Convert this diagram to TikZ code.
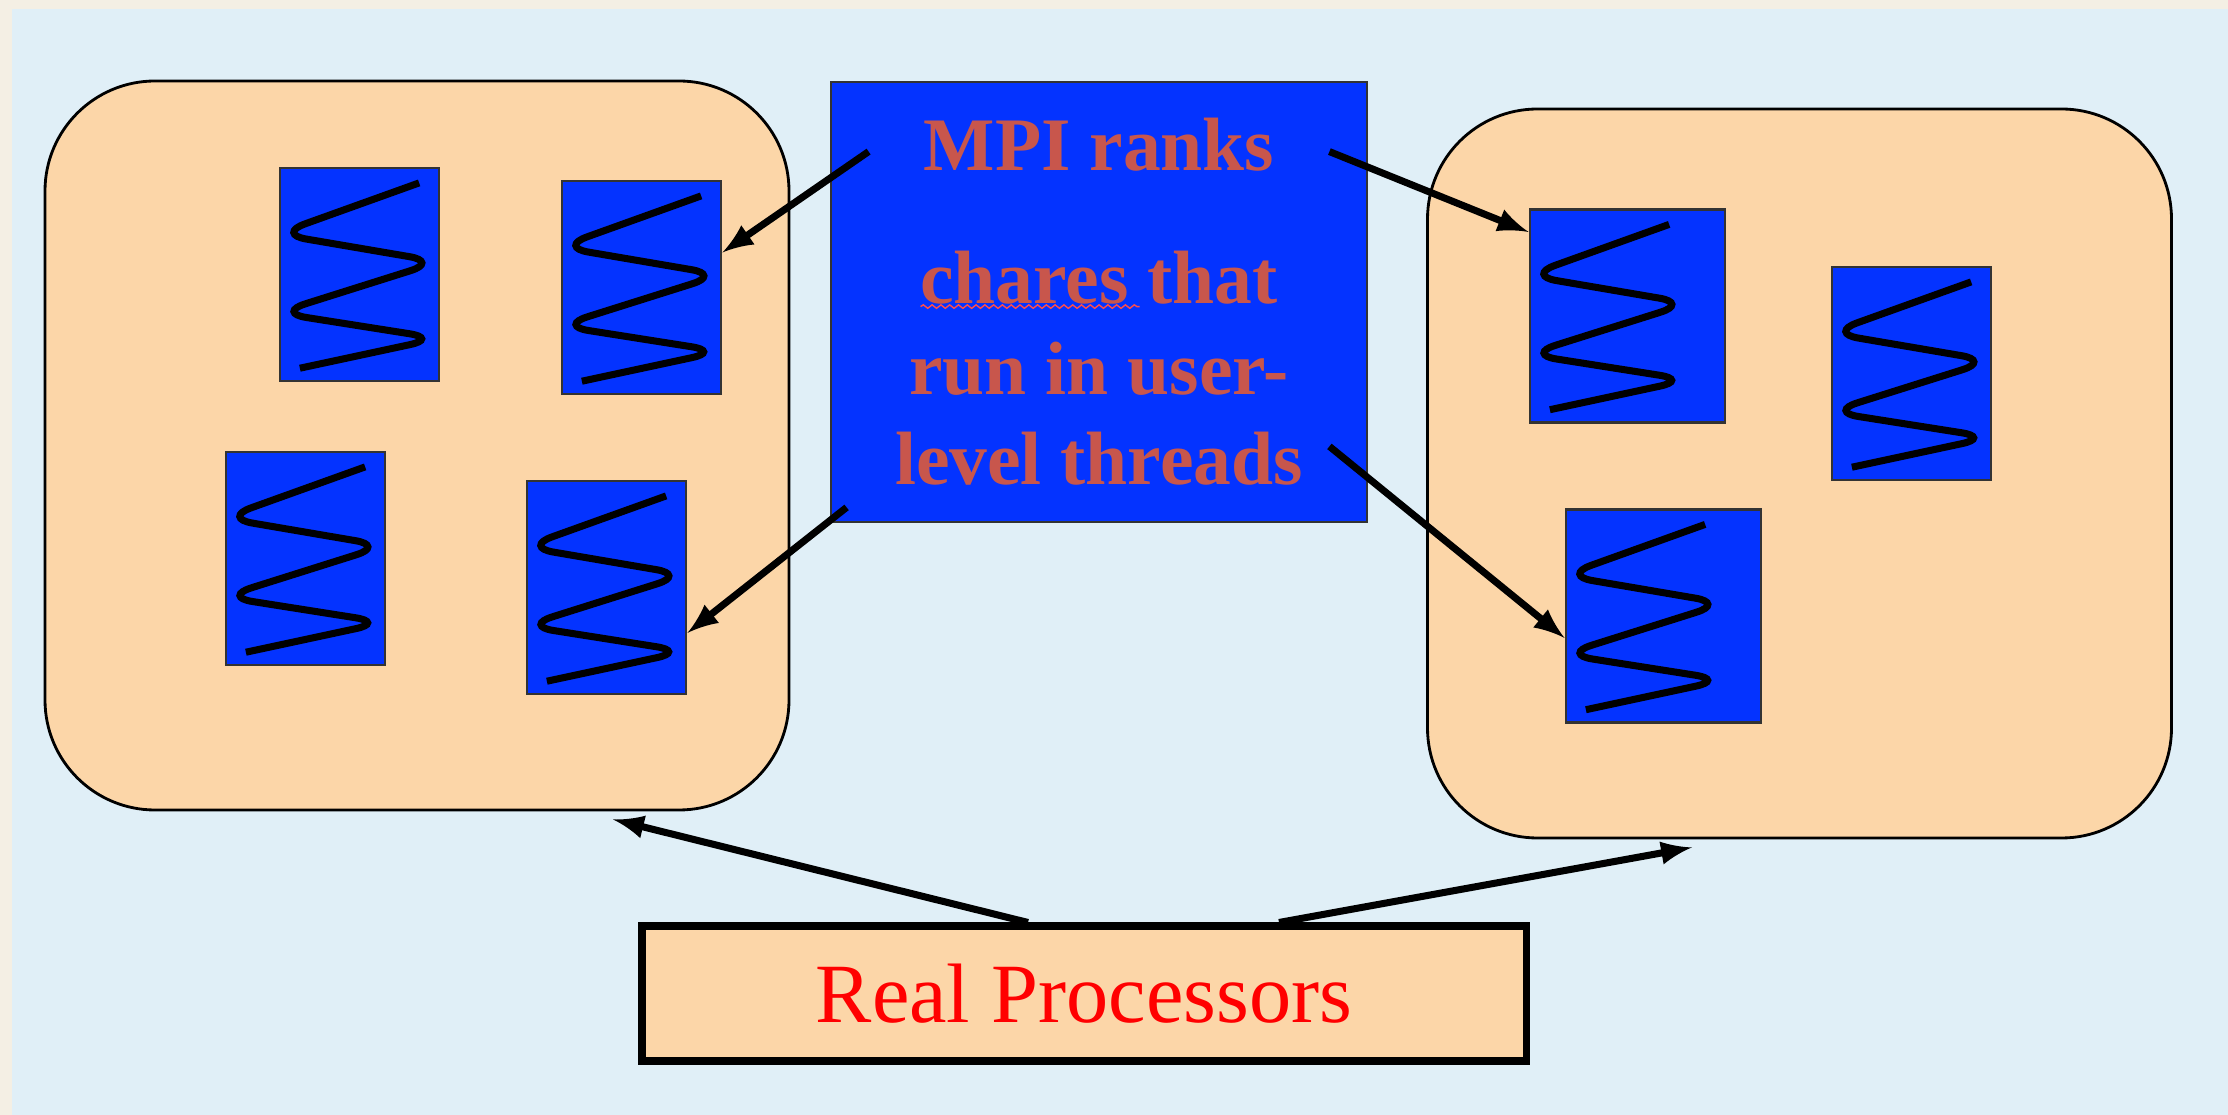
\documentclass[tikz,border=0pt]{standalone}
\usepackage{fontspec}
\setmainfont{Liberation Serif}
\usepackage{xcolor}
\usepackage{tikz}
\usetikzlibrary{decorations.pathmorphing}
\definecolor{rahmen}{RGB}{244,239,228}
\definecolor{hellblau}{RGB}{224,239,247}
\definecolor{pfirsich}{RGB}{252,214,168}
\definecolor{mpiblau}{RGB}{4,51,255}
\definecolor{ziegel}{RGB}{200,86,76}
\tikzset{
  Pfeil/.style={line width=2pt,->}, % Pfeile
  Prozessor/.style={draw,line width=0.8pt,fill=pfirsich,rounded corners=1.1cm,
    minimum width=7.44cm,minimum height=7.29cm}, % Prozessoren
  Faden/.style={draw=black!80,line width=0.8pt,fill=mpiblau,inner sep=0pt,
    minimum width=#1,minimum height=2.13cm,
    path picture={\draw[draw=black,line width=2pt,rounded corners=3mm,x=1.59cm,y=2.13cm]
      (path picture bounding box.north west) ++(0.875,-0.07)
      -- ++(-0.895,-0.24) -- ++(1.02,-0.13) -- ++(-1.02,-0.24)
      -- ++(1.02,-0.12) -- ++(-0.875,-0.14);}}, % Threads
  Faden/.default=1.59cm,
  Welle/.style={red!70!white,thin,decorate,
    decoration={snake,amplitude=0.5pt,segment length=2.5pt}}
}
\begin{document}
\begin{tikzpicture}[
>=latex % Pfeilspitzen
]
\useasboundingbox (0,0) rectangle (22.28,-11.15);

%Hintergrund
\fill[rahmen] (0,0) rectangle (22.28,-11.15);
\fill[hellblau] (0.12,-0.09) rectangle (22.28,-11.15);

%Prozessoren
\node[Prozessor] (pe1) at (4.17,-4.455) {};
\node[Prozessor] (pe2) at (17.995,-4.735) {};

%Threads
\node[Faden] (t1) at (3.595,-2.745) {};
\node[Faden] (t2) at (6.415,-2.875) {};
\node[Faden] (t3) at (3.055,-5.585) {};
\node[Faden] (t4) at (6.065,-5.875) {};
\node[Faden=1.95cm] (t5) at (16.275,-3.16) {};
\node[Faden] (t6) at (19.115,-3.735) {};
\node[Faden=1.95cm] (t7) at (16.635,-6.16) {};

%Beschriftungen
\node[draw=black!80,line width=0.8pt,fill=mpiblau,text=ziegel,align=center,inner sep=0pt,
  minimum width=5.36cm,minimum height=4.40cm,
  font=\fontsize{21.5}{25.8}\selectfont\bfseries] (mpi) at (10.99,-3.02)
  {MPI ranks\\[12pt]chares that\\run in user-\\level threads};
\draw[Welle] ([shift={(0.91,-2.26)}]mpi.north west) -- ++(2.19,0);

\node[draw,line width=2pt,fill=pfirsich,text=red,
  minimum width=8.84cm,minimum height=1.35cm,
  font=\fontsize{24}{28}\selectfont] (real) at (10.84,-9.935) {Real Processors};

%Pfeile
\draw[Pfeil] ([shift={(0.39,-0.71)}]mpi.north west) -- ([yshift=0.35cm]t2.east);
\draw[Pfeil] ([shift={(0.17,0.16)}]mpi.south west) -- ([yshift=-0.455cm]t4.east);
\draw[Pfeil] ([shift={(-0.39,-0.71)}]mpi.north east) -- ([yshift=0.84cm]t5.west);
\draw[Pfeil] ([shift={(-0.39,0.77)}]mpi.south east) -- ([yshift=-0.22cm]t7.west);
\draw[Pfeil] ([xshift=-0.56cm]real.north) -- ([shift={(1.96,-0.08)}]pe1.south);
\draw[Pfeil] ([xshift=1.95cm]real.north) -- ([shift={(-1.075,-0.08)}]pe2.south);

\end{tikzpicture}
\end{document}
